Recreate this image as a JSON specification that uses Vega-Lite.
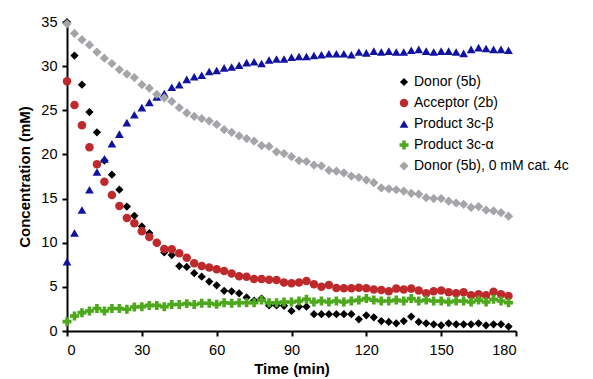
{
  "$schema": "https://vega.github.io/schema/vega-lite/v6.json",
  "width": 449,
  "height": 309,
  "autosize": {"type": "none"},
  "padding": {"left": 67, "top": 22, "right": 77, "bottom": 48},
  "background": "white",
  "config": {
    "font": "Liberation Sans",
    "view": {"stroke": null},
    "axis": {
      "grid": false,
      "domainColor": "#000000",
      "domainWidth": 2,
      "tickColor": "#000000",
      "tickWidth": 2,
      "tickSize": 5,
      "labelFontSize": 14.5,
      "labelColor": "#000000",
      "labelFont": "Liberation Sans",
      "titleFont": "Liberation Sans",
      "titleFontSize": 15,
      "titleFontWeight": "bold",
      "titleColor": "#000000"
    }
  },
  "data": {
    "values": [
      {"t": 0, "s1": 35.0, "s2": 28.3, "s3": 7.86, "s4": 1.06, "s5": 34.8},
      {"t": 3, "s1": 31.2, "s2": 25.6, "s3": 11.1, "s4": 1.7, "s5": 33.7},
      {"t": 6, "s1": 27.9, "s2": 23.3, "s3": 13.7, "s4": 2.08, "s5": 33.0},
      {"t": 9, "s1": 24.8, "s2": 20.8, "s3": 16.0, "s4": 2.27, "s5": 32.4},
      {"t": 12, "s1": 22.5, "s2": 18.9, "s3": 18.0, "s4": 2.54, "s5": 31.6},
      {"t": 15, "s1": 19.3, "s2": 16.9, "s3": 19.5, "s4": 2.27, "s5": 30.9},
      {"t": 18, "s1": 17.7, "s2": 15.4, "s3": 21.2, "s4": 2.54, "s5": 30.3},
      {"t": 21, "s1": 16.0, "s2": 14.15, "s3": 22.3, "s4": 2.54, "s5": 29.6},
      {"t": 24, "s1": 14.1, "s2": 12.8, "s3": 23.6, "s4": 2.46, "s5": 29.1},
      {"t": 27, "s1": 13.05, "s2": 12.2, "s3": 24.5, "s4": 2.72, "s5": 28.7},
      {"t": 30, "s1": 11.85, "s2": 11.3, "s3": 25.3, "s4": 2.76, "s5": 27.9},
      {"t": 33, "s1": 11.1, "s2": 10.65, "s3": 25.9, "s4": 2.9, "s5": 27.5},
      {"t": 36, "s1": 10.0, "s2": 10.0, "s3": 26.5, "s4": 2.9, "s5": 26.8},
      {"t": 39, "s1": 8.9, "s2": 9.3, "s3": 26.9, "s4": 2.76, "s5": 26.4},
      {"t": 42, "s1": 8.6, "s2": 9.25, "s3": 27.6, "s4": 3.0, "s5": 26.0},
      {"t": 45, "s1": 7.36, "s2": 8.8, "s3": 27.9, "s4": 3.0, "s5": 25.3},
      {"t": 48, "s1": 7.25, "s2": 8.3, "s3": 28.5, "s4": 3.1, "s5": 24.7},
      {"t": 51, "s1": 6.55, "s2": 7.67, "s3": 28.8, "s4": 3.0, "s5": 24.3},
      {"t": 54, "s1": 6.15, "s2": 7.36, "s3": 28.96, "s4": 3.14, "s5": 24.05},
      {"t": 57, "s1": 5.6, "s2": 7.2, "s3": 29.4, "s4": 3.14, "s5": 23.8},
      {"t": 60, "s1": 5.17, "s2": 7.0, "s3": 29.5, "s4": 3.02, "s5": 23.4},
      {"t": 63, "s1": 4.55, "s2": 6.8, "s3": 29.8, "s4": 3.2, "s5": 22.8},
      {"t": 66, "s1": 4.5, "s2": 6.5, "s3": 29.9, "s4": 3.14, "s5": 22.5},
      {"t": 69, "s1": 4.27, "s2": 6.2, "s3": 30.1, "s4": 3.2, "s5": 22.1},
      {"t": 72, "s1": 3.8, "s2": 6.15, "s3": 30.4, "s4": 3.2, "s5": 21.8},
      {"t": 75, "s1": 3.45, "s2": 5.9, "s3": 30.5, "s4": 3.2, "s5": 21.5},
      {"t": 78, "s1": 3.67, "s2": 5.9, "s3": 30.3, "s4": 3.5, "s5": 21.0},
      {"t": 81, "s1": 2.9, "s2": 5.8, "s3": 30.7, "s4": 3.2, "s5": 20.9},
      {"t": 84, "s1": 2.9, "s2": 5.78, "s3": 30.8, "s4": 3.2, "s5": 20.3},
      {"t": 87, "s1": 2.85, "s2": 5.5, "s3": 30.8, "s4": 3.28, "s5": 20.1},
      {"t": 90, "s1": 2.27, "s2": 5.4, "s3": 31.0, "s4": 3.28, "s5": 19.75},
      {"t": 93, "s1": 2.76, "s2": 5.5, "s3": 31.1, "s4": 3.4, "s5": 19.3},
      {"t": 96, "s1": 2.76, "s2": 5.66, "s3": 31.1, "s4": 3.6, "s5": 19.2},
      {"t": 99, "s1": 1.9, "s2": 5.3, "s3": 31.2, "s4": 3.28, "s5": 18.8},
      {"t": 102, "s1": 1.9, "s2": 5.0, "s3": 31.3, "s4": 3.4, "s5": 18.7},
      {"t": 105, "s1": 1.9, "s2": 5.2, "s3": 31.4, "s4": 3.28, "s5": 18.2},
      {"t": 108, "s1": 1.9, "s2": 4.87, "s3": 31.4, "s4": 3.4, "s5": 18.1},
      {"t": 111, "s1": 1.9, "s2": 4.85, "s3": 31.4, "s4": 3.28, "s5": 17.9},
      {"t": 114, "s1": 1.9, "s2": 4.85, "s3": 31.3, "s4": 3.4, "s5": 17.55},
      {"t": 117, "s1": 1.32, "s2": 4.9, "s3": 31.6, "s4": 3.5, "s5": 17.4},
      {"t": 120, "s1": 1.78, "s2": 4.85, "s3": 31.5, "s4": 3.67, "s5": 17.1},
      {"t": 123, "s1": 1.55, "s2": 4.7, "s3": 31.7, "s4": 3.5, "s5": 16.8},
      {"t": 126, "s1": 1.13, "s2": 4.65, "s3": 31.6, "s4": 3.4, "s5": 16.2},
      {"t": 129, "s1": 1.02, "s2": 4.5, "s3": 31.7, "s4": 3.4, "s5": 16.1},
      {"t": 132, "s1": 0.87, "s2": 4.8, "s3": 31.6, "s4": 3.5, "s5": 16.0},
      {"t": 135, "s1": 1.13, "s2": 4.7, "s3": 31.6, "s4": 3.4, "s5": 15.85},
      {"t": 138, "s1": 1.63, "s2": 4.8, "s3": 31.8, "s4": 3.67, "s5": 15.6},
      {"t": 141, "s1": 1.02, "s2": 4.6, "s3": 31.9, "s4": 3.4, "s5": 15.5},
      {"t": 144, "s1": 0.87, "s2": 4.27, "s3": 31.7, "s4": 3.5, "s5": 15.1},
      {"t": 147, "s1": 0.76, "s2": 4.5, "s3": 31.6, "s4": 3.4, "s5": 15.0},
      {"t": 150, "s1": 0.65, "s2": 4.6, "s3": 31.7, "s4": 3.4, "s5": 15.0},
      {"t": 153, "s1": 0.87, "s2": 4.4, "s3": 31.7, "s4": 3.28, "s5": 14.7},
      {"t": 156, "s1": 0.76, "s2": 4.27, "s3": 31.6, "s4": 3.4, "s5": 14.5},
      {"t": 159, "s1": 0.76, "s2": 4.4, "s3": 31.45, "s4": 3.4, "s5": 14.35},
      {"t": 162, "s1": 0.76, "s2": 4.04, "s3": 31.9, "s4": 3.28, "s5": 14.0},
      {"t": 165, "s1": 0.87, "s2": 4.15, "s3": 32.1, "s4": 3.5, "s5": 14.1},
      {"t": 168, "s1": 0.65, "s2": 4.04, "s3": 32.0, "s4": 3.28, "s5": 13.7},
      {"t": 171, "s1": 0.76, "s2": 4.45, "s3": 31.9, "s4": 3.6, "s5": 13.6},
      {"t": 174, "s1": 0.76, "s2": 4.15, "s3": 31.9, "s4": 3.4, "s5": 13.4},
      {"t": 177, "s1": 0.5, "s2": 3.96, "s3": 31.8, "s4": 3.2, "s5": 13.0}
    ]
  },
  "transform": [{"fold": ["s1", "s2", "s3", "s4", "s5"], "as": ["series", "value"]}],
  "mark": {"type": "point", "filled": true, "opacity": 1, "strokeWidth": 0},
  "encoding": {
    "x": {
      "field": "t",
      "type": "quantitative",
      "scale": {"domain": [0, 180], "nice": false, "zero": false},
      "axis": {
        "values": [0, 30, 60, 90, 120, 150, 180],
        "title": "Time (min)",
        "labelPadding": 7,
        "titlePadding": 5
      }
    },
    "y": {
      "field": "value",
      "type": "quantitative",
      "scale": {"domain": [0, 35], "nice": false},
      "axis": {
        "values": [0, 5, 10, 15, 20, 25, 30, 35],
        "title": "Concentration (mM)",
        "labelPadding": 5,
        "titlePadding": 8
      }
    },
    "color": {
      "field": "series",
      "type": "nominal",
      "scale": {
        "domain": ["s1", "s2", "s3", "s4", "s5"],
        "range": ["#000000", "#BE2A2C", "#1212A0", "#4DA81E", "#A3A5A8"]
      },
      "legend": {
        "title": null,
        "orient": "none",
        "legendX": 330,
        "legendY": 53,
        "labelFontSize": 14,
        "labelColor": "#000000",
        "labelFont": "Liberation Sans",
        "symbolSize": 60,
        "symbolStrokeWidth": 0,
        "rowPadding": 7,
        "labelOffset": 3,
        "labelExpr": "{'s1': 'Donor (5b)', 's2': 'Acceptor (2b)', 's3': 'Product 3c-β', 's4': 'Product 3c-α', 's5': 'Donor (5b), 0 mM cat. 4c'}[datum.value]"
      }
    },
    "shape": {
      "field": "series",
      "type": "nominal",
      "scale": {
        "domain": ["s1", "s2", "s3", "s4", "s5"],
        "range": ["diamond", "circle", "triangle-up", "cross", "diamond"]
      }
    },
    "size": {
      "field": "series",
      "type": "nominal",
      "scale": {
        "domain": ["s1", "s2", "s3", "s4", "s5"],
        "range": [68, 85, 75, 75, 68]
      },
      "legend": null
    },
    "order": {"field": "series", "sort": "ascending"}
  }
}
